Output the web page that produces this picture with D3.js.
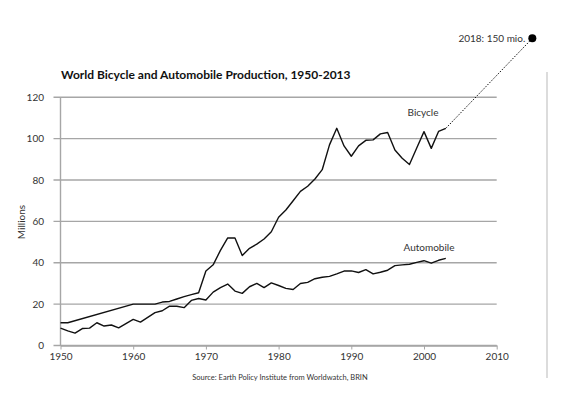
<!DOCTYPE html>
<html>
<head>
<meta charset="utf-8">
<script src="https://cdnjs.cloudflare.com/ajax/libs/d3/7.8.5/d3.min.js"></script>
<style>
	body { margin: 0; background: #fff; }
	svg { display: block; font-family: Lato, "DejaVu Sans", sans-serif; }
</style>
</head>
<body>
<script>
// bicycle series (millions)
const bikeYears = [1950, 1951, 1960, 1963, 1964, 1965, 1966, 1967, 1968, 1969,
	1970, 1971, 1972, 1973, 1974, 1975, 1976, 1977, 1978, 1979,
	1980, 1981, 1982, 1983, 1984, 1985, 1986, 1987, 1988, 1989,
	1990, 1991, 1992, 1993, 1994, 1995, 1996, 1997, 1998, 1999,
	2000, 2001, 2002, 2003];
const bikeValues = [11, 11, 20, 20, 21, 21.3, 22.5, 23.6, 24.6, 25.5,
	36, 39, 46, 52, 52, 43.5, 47, 49, 51.5, 55,
	62, 65.5, 70, 74.5, 77, 80.5, 85, 97, 105, 96.5,
	91.5, 96.5, 99.2, 99.4, 102.3, 103, 94.5, 90.5, 87.5, 95.5,
	103.4, 95.3, 103.5, 105];

// automobile series (millions)
const carYears = d3.range(1950, 2004);
const carValues = [8.4, 7.1, 6.0, 8.2, 8.4, 11, 9.4, 9.9, 8.5, 10.6,
	12.6, 11.3, 13.6, 15.9, 16.8, 19, 19, 18.3, 21.8, 22.7,
	22, 25.8, 28, 29.7, 26.3, 25.2, 28.4, 30, 28, 30.3,
	29, 27.6, 27.1, 30, 30.5, 32.3, 33, 33.4, 34.6, 36,
	36.1, 35.3, 36.7, 34.6, 35.4, 36.4, 38.6, 39, 39.3, 40.2,
	41, 39.8, 41.2, 42.1];

// axis ticks
const xTicks = [1950, 1960, 1970, 1980, 1990, 2000, 2010];
const yTicks = [0, 20, 40, 60, 80, 100, 120];

// 2018 note, as placed on the picture
const noteLabel = "2018: 150 mio.";
const notePoint = [2014.9, 148.5];

const w = 569,
	h = 399;

const svg = d3.select("body")
	.append("svg")
	.attr("width", w)
	.attr("height", h);

const xScale = d3.scaleLinear().domain([1950, 2010]).range([60.5, 496.7]),
	yScale = d3.scaleLinear().domain([0, 120]).range([345.5, 97.3]);

// right border line
svg.append("line")
	.attr("x1", 547).attr("x2", 547)
	.attr("y1", 72).attr("y2", 378)
	.attr("stroke", "#dcdcdc")
	.attr("stroke-width", 2);

// title
svg.append("text")
	.attr("x", 61)
	.attr("y", 79)
	.attr("font-size", "12px")
	.attr("font-weight", "bold")
	.attr("fill", "#111")
	.text("World Bicycle and Automobile Production, 1950-2013");

// gridlines
svg.append("g")
	.selectAll("line")
	.data(yTicks)
	.enter()
	.append("line")
	.attr("x1", xScale(1950) - 7)
	.attr("x2", xScale(2010))
	.attr("y1", d => yScale(d))
	.attr("y2", d => yScale(d))
	.attr("stroke", "#a6a6a6")
	.attr("stroke-width", 1.4);

// y axis line
svg.append("line")
	.attr("x1", xScale(1950)).attr("x2", xScale(1950))
	.attr("y1", yScale(120)).attr("y2", yScale(0))
	.attr("stroke", "#a6a6a6")
	.attr("stroke-width", 1.4);

// y labels
svg.append("g")
	.selectAll("text")
	.data(yTicks)
	.enter()
	.append("text")
	.attr("x", 44)
	.attr("y", d => yScale(d) + 3.5)
	.attr("text-anchor", "end")
	.attr("font-size", "10px")
	.attr("fill", "#333")
	.text(d => d);

// x axis
const xAxis = svg.append("g")
	.attr("transform", `translate(0,${yScale(0)})`)
	.call(d3.axisBottom(xScale).tickValues(xTicks).tickFormat(d3.format("d")).tickSize(4).tickSizeOuter(0));

xAxis.select(".domain").attr("stroke", "#a6a6a6").attr("stroke-width", 1.4);
xAxis.selectAll(".tick line").attr("stroke", "#a6a6a6");
xAxis.selectAll(".tick text")
	.attr("font-family", "Lato, sans-serif")
	.attr("font-size", "10px")
	.attr("fill", "#333")
	.attr("y", 7);

// axis title
svg.append("text")
	.attr("transform", "translate(25,222) rotate(-90)")
	.attr("text-anchor", "middle")
	.attr("font-size", "10px")
	.attr("fill", "#333")
	.text("Millions");

// lines
const line = d3.line()
	.x(d => xScale(d[0]))
	.y(d => yScale(d[1]));

const bike = bikeYears.map((y, i) => [y, bikeValues[i]]),
	cars = carYears.map((y, i) => [y, carValues[i]]);

[bike, cars].forEach(series => {
	svg.append("path")
		.datum(series)
		.attr("d", line)
		.attr("fill", "none")
		.attr("stroke", "#111")
		.attr("stroke-width", 1.4)
		.attr("stroke-linejoin", "round");
});

// dotted link to the 2018 note
const last = bike[bike.length - 1];

svg.append("path")
	.datum([last, notePoint])
	.attr("d", line)
	.attr("fill", "none")
	.attr("stroke", "#111")
	.attr("stroke-width", 1)
	.attr("stroke-dasharray", "1.5,1.5");

svg.append("circle")
	.attr("cx", xScale(notePoint[0]))
	.attr("cy", yScale(notePoint[1]))
	.attr("r", 4)
	.attr("fill", "#000");

svg.append("text")
	.attr("x", xScale(notePoint[0]) - 7)
	.attr("y", yScale(notePoint[1]) + 4)
	.attr("text-anchor", "end")
	.attr("font-size", "10px")
	.attr("fill", "#333")
	.text(noteLabel);

// series labels
svg.append("text")
	.attr("x", 423)
	.attr("y", 116)
	.attr("text-anchor", "middle")
	.attr("font-size", "10px")
	.attr("fill", "#333")
	.text("Bicycle");

svg.append("text")
	.attr("x", 429)
	.attr("y", 251)
	.attr("text-anchor", "middle")
	.attr("font-size", "10px")
	.attr("fill", "#333")
	.text("Automobile");

// source
svg.append("text")
	.attr("x", 280)
	.attr("y", 380)
	.attr("text-anchor", "middle")
	.attr("font-size", "7.5px")
	.attr("fill", "#333")
	.text("Source: Earth Policy Institute from Worldwatch, BRIN");
</script>
</body>
</html>
